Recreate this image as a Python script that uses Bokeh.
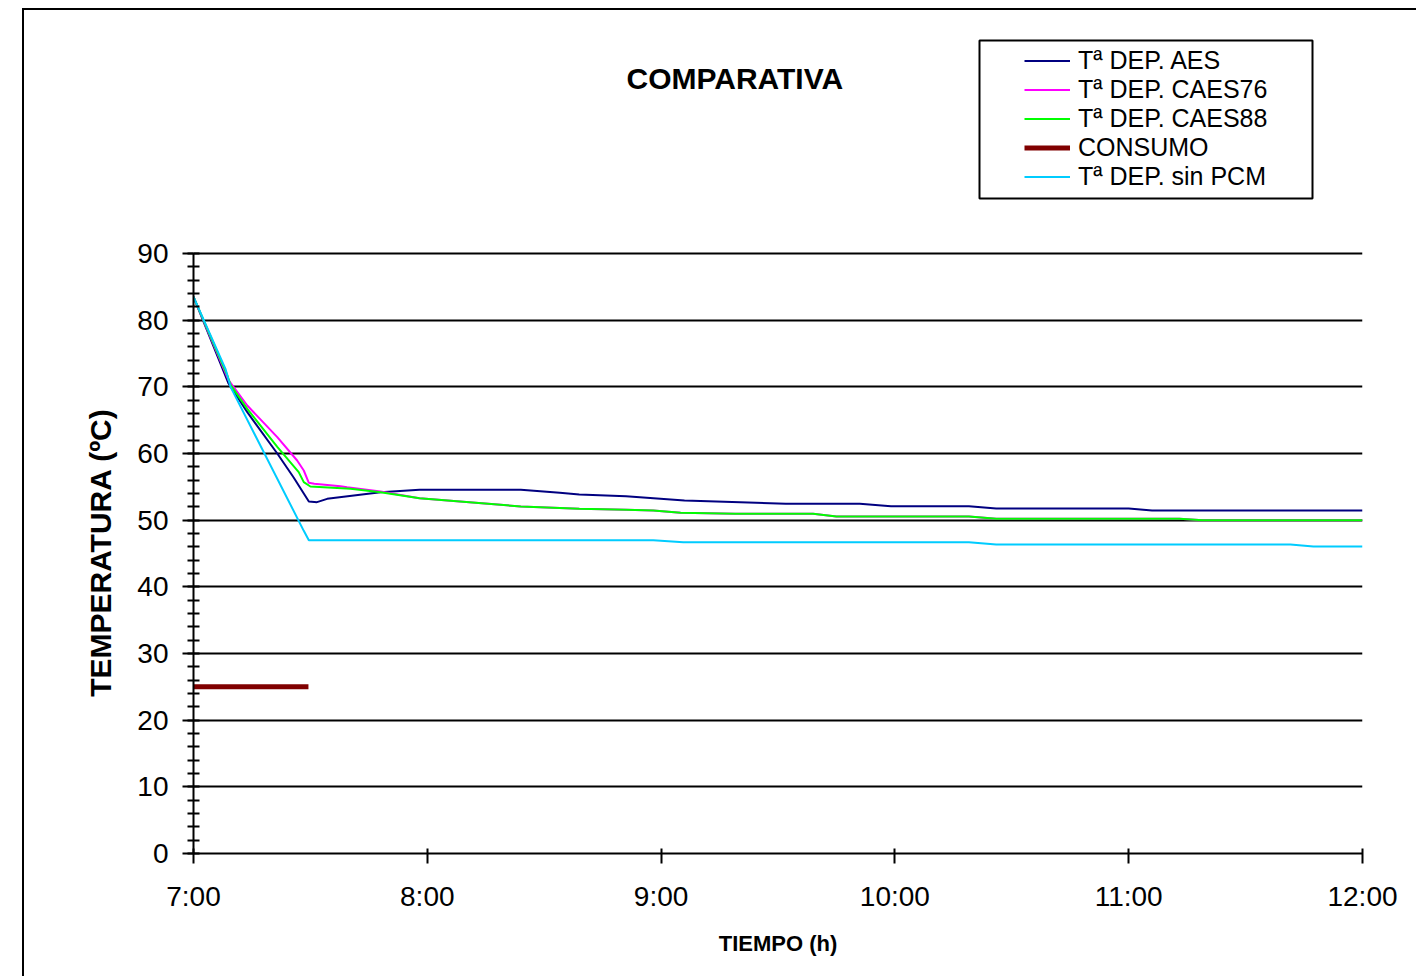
from bokeh.plotting import figure
from bokeh.models import FixedTicker, Legend, LegendItem
from bokeh.layouts import column
from bokeh.core.properties import value
from bokeh.embed import file_html
from bokeh.resources import INLINE

# ---------------- data (minutes after 7:00, temperature ºC) ----------------
aes_min = [0, 9, 13.8, 21.5, 25.7, 28.3, 29.6, 31.7, 34.3, 48, 58, 84, 94, 99, 111,
           126, 152, 171, 179, 199, 206, 240, 246, 300]
aes_t = [83.5, 70.5, 66.2, 60.0, 56.4, 54.0, 52.8, 52.7, 53.2, 54.2, 54.55, 54.55, 54.1,
         53.85, 53.6, 52.95, 52.45, 52.45, 52.1, 52.1, 51.75, 51.75, 51.45, 51.45]

c76_min = [0, 9, 13.8, 21.5, 26.6, 28.3, 29.6, 31, 37.7, 39.4, 48, 58, 74, 84, 99, 111,
           118, 125, 139, 159, 165, 199, 206, 253, 259, 300]
c76_t = [83.5, 71.0, 67.2, 62.45, 58.95, 57.45, 55.6, 55.45, 55.1, 54.95, 54.3, 53.3,
         52.55, 52.05, 51.7, 51.55, 51.45, 51.1, 50.95, 50.95, 50.55, 50.55, 50.2, 50.2,
         50.0, 50.0]

c88_min = [0, 8.7, 9.5, 13.8, 21.5, 27, 28.3, 30, 40.3, 48, 58, 74, 84, 99, 111,
           118, 125, 139, 159, 165, 199, 206, 253, 259, 300]
c88_t = [83.5, 71.7, 70.3, 66.7, 61.0, 57.2, 55.7, 55.05, 54.7, 54.2, 53.3, 52.55,
         52.05, 51.7, 51.55, 51.45, 51.1, 50.95, 50.95, 50.55, 50.55, 50.2, 50.2,
         50.0, 50.0]

consumo_min = [0, 29.5]
consumo_t = [25, 25]

sin_min = [0, 8.2, 9.5, 28.3, 29.6, 118, 125.7, 199, 206, 281.5, 287.4, 300]
sin_t = [83.5, 72.7, 70.0, 48.4, 47.0, 47.0, 46.7, 46.7, 46.35, 46.35, 46.05, 46.05]

series_names = ["Tª DEP. AES", "Tª DEP. CAES76", "Tª DEP. CAES88", "CONSUMO",
                "Tª DEP. sin PCM"]
series_colors = ["#000080", "#FF00FF", "#00FF00", "#800000", "#00CCFF"]
series_widths = [2, 2, 2, 5, 2]
x_tick_values = [7, 8, 9, 10, 11, 12]
x_tick_labels = ["7:00", "8:00", "9:00", "10:00", "11:00", "12:00"]
y_tick_values = [0, 10, 20, 30, 40, 50, 60, 70, 80, 90]
chart_title = "COMPARATIVA"

FONT = "Liberation Sans"
W = 1392
TOP_H = 200


def hours(mins):
    return [7 + m / 60.0 for m in mins]


# ---------------- header figure: title and legend ----------------
# its frame is aligned by the column with the chart frame (page x 193..1362),
# so the header uses page-pixel coordinates horizontally
top = figure(width=W, height=TOP_H, x_range=(193, 1362), y_range=(0, TOP_H),
             output_backend="svg", toolbar_location=None,
             x_axis_type=None, y_axis_type=None,
             min_border_left=0, min_border_right=0,
             min_border_top=0, min_border_bottom=0)
top.outline_line_color = None
top.xgrid.grid_line_color = None
top.ygrid.grid_line_color = None
top.background_fill_color = "white"
top.border_fill_color = "white"

top.text(x=[626], y=[132], text=[chart_title], text_font=value(FONT),
         text_font_size="30px", text_font_style="bold", text_color="black",
         text_align="left", text_baseline="middle")

# legend frame
top.quad(left=[979], right=[1312], top=[170], bottom=[12],
         fill_alpha=0, line_color="black", line_width=2)

nan = float("nan")
dummies = [top.line(x=[nan, nan], y=[nan, nan], line_color=c, line_width=w)
           for c, w in zip(series_colors, series_widths)]
legend = Legend(items=[LegendItem(label=n, renderers=[r])
                       for n, r in zip(series_names, dummies)],
                location=(831, 19), orientation="vertical",
                padding=0, margin=0, spacing=0,
                glyph_width=46, glyph_height=29, label_height=29,
                label_standoff=8,
                label_text_font=FONT, label_text_font_size="25px",
                label_text_color="black",
                border_line_alpha=0, background_fill_alpha=0)
top.add_layout(legend, "center")

# ---------------- main chart ----------------
p = figure(width=W, height=976 - 10 - TOP_H, x_range=(7, 12), y_range=(0, 90.3),
           output_backend="svg", toolbar_location=None,
           min_border_left=169, min_border_right=54,
           min_border_top=41, min_border_bottom=123)
p.outline_line_color = None
p.background_fill_color = "white"
p.border_fill_color = "white"

xa = p.xaxis[0]
xa.ticker = FixedTicker(ticks=x_tick_values)
xa.major_label_overrides = {v: l for v, l in zip(x_tick_values, x_tick_labels)}
xa.axis_label = "TIEMPO (h)"
xa.axis_label_text_font = FONT
xa.axis_label_text_font_size = "22px"
xa.axis_label_text_font_style = "bold"
xa.axis_label_text_color = "black"
xa.axis_label_standoff = 16
xa.major_label_text_font = FONT
xa.major_label_text_font_size = "28px"
xa.major_label_text_color = "black"
xa.major_label_standoff = 17
xa.axis_line_color = "black"
xa.axis_line_width = 2
xa.major_tick_line_color = "black"
xa.major_tick_line_width = 2
xa.major_tick_in = 5
xa.major_tick_out = 10
xa.minor_tick_line_color = None

ya = p.yaxis[0]
ya.bounds = (0, 90)
ya.ticker = FixedTicker(ticks=y_tick_values,
                        minor_ticks=[v for v in range(0, 91, 2)])
ya.axis_label = "TEMPERATURA (ºC)"
ya.axis_label_text_font = FONT
ya.axis_label_text_font_size = "30px"
ya.axis_label_text_font_style = "bold"
ya.axis_label_text_color = "black"
ya.axis_label_standoff = 17
ya.major_label_text_font = FONT
ya.major_label_text_font_size = "28px"
ya.major_label_text_color = "black"
ya.major_label_standoff = 14
ya.axis_line_color = "black"
ya.axis_line_width = 2
ya.major_tick_line_color = "black"
ya.major_tick_line_width = 2
ya.major_tick_in = 0
ya.major_tick_out = 11
ya.minor_tick_line_color = "black"
ya.minor_tick_line_width = 2
ya.minor_tick_in = 6
ya.minor_tick_out = 6

p.xgrid.grid_line_color = None
p.ygrid.ticker = FixedTicker(ticks=y_tick_values)
p.ygrid.grid_line_color = "black"
p.ygrid.grid_line_width = 2

series_x = [aes_min, c76_min, c88_min, consumo_min, sin_min]
series_y = [aes_t, c76_t, c88_t, consumo_t, sin_t]
for xs, ys, c, w in zip(series_x, series_y, series_colors, series_widths):
    p.line(hours(xs), ys, line_color=c, line_width=w)

layout = column(top, p, spacing=0)
layout.styles = {"position": "absolute", "left": "22px", "top": "8px",
                 "border-left": "2px solid black", "border-top": "2px solid black"}

open("out.html", "w").write(file_html(layout, INLINE))
